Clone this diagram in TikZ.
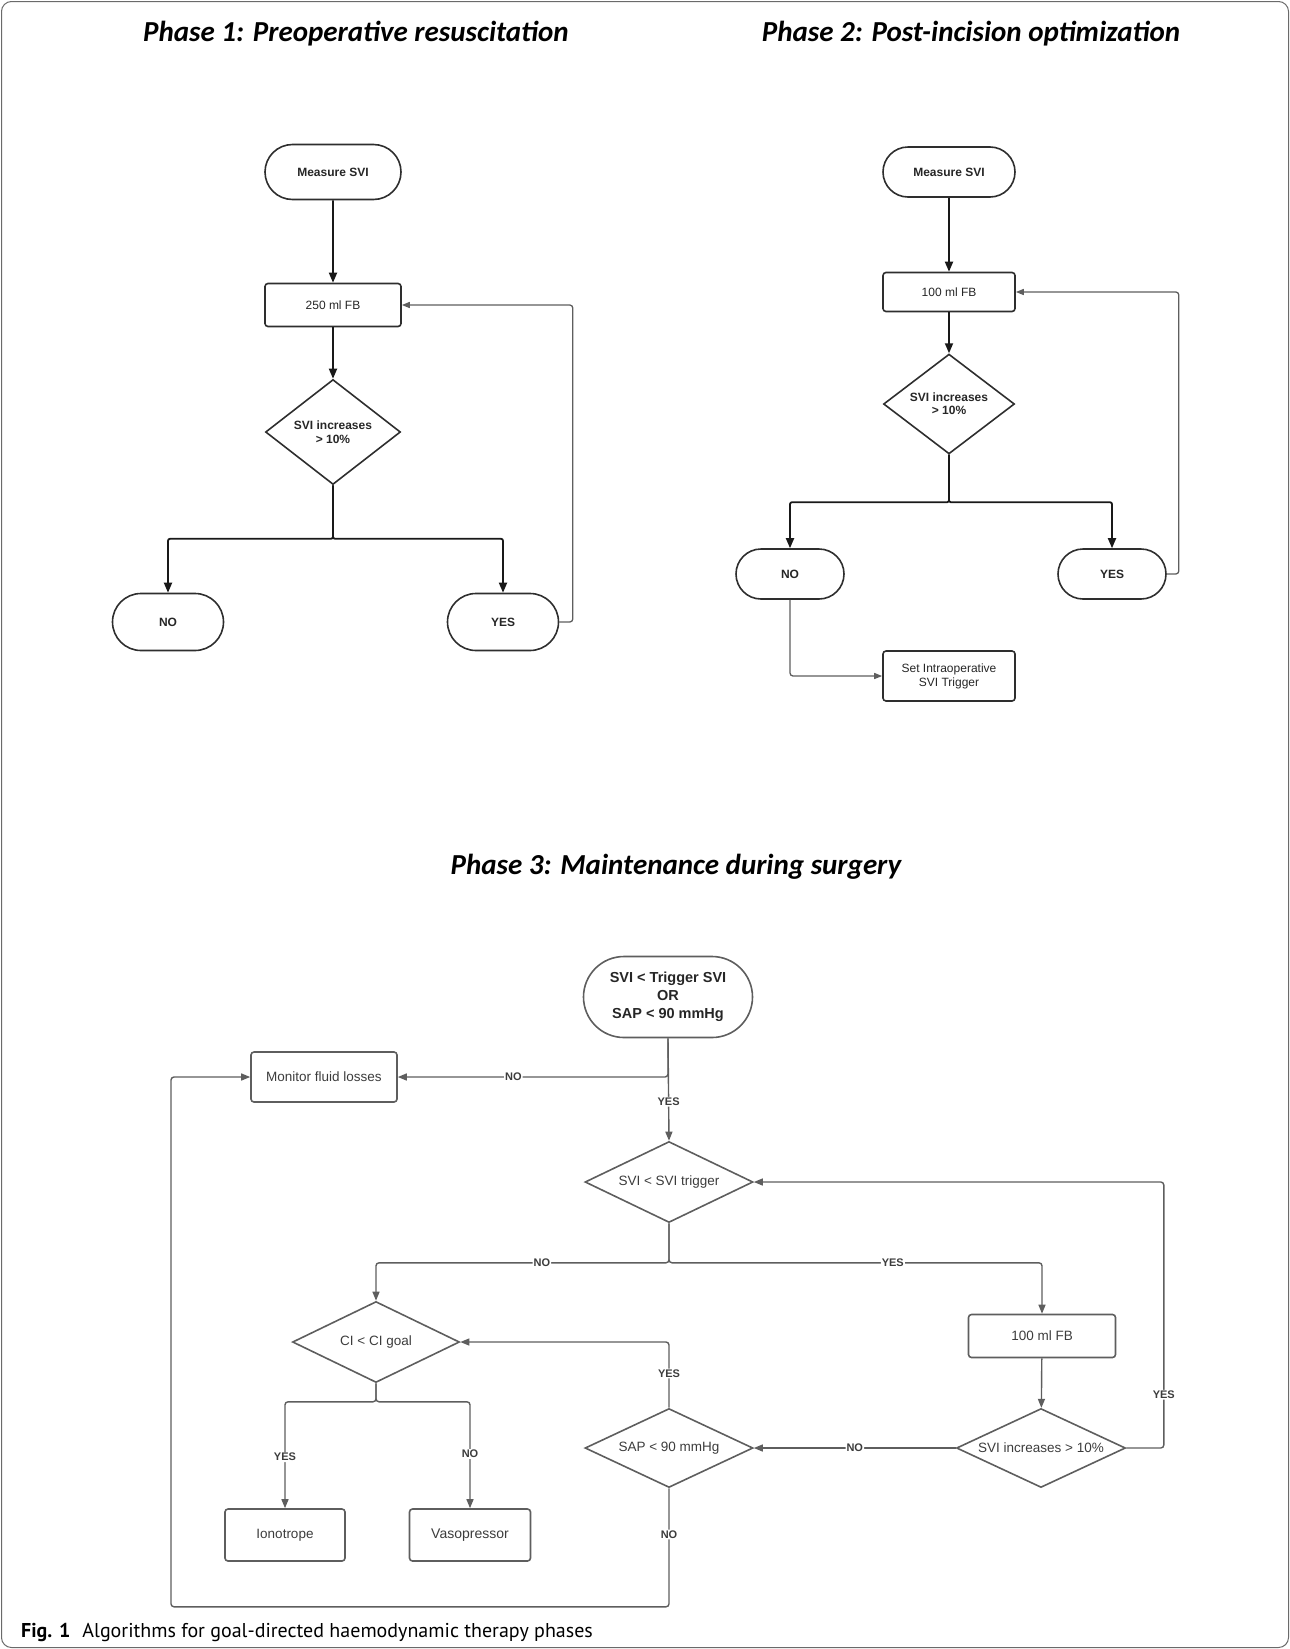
\documentclass[tikz,border=0pt]{standalone}
\usepackage{fontspec}
\setmainfont{Liberation Sans}
\newfontfamily\capfont{PT Sans}
\newfontfamily\headfont{Carlito}
\usetikzlibrary{positioning,shapes.geometric,shapes.misc,arrows.meta}
\definecolor{edgeblack}{HTML}{2E2E2E}
\definecolor{flowgray}{HTML}{5E5E5E}
\definecolor{framegray}{HTML}{6A6A6A}
\definecolor{textgray}{HTML}{3C3C3C}

\begin{document}
\begin{tikzpicture}[
				x=1pt,y=-1pt,
				term/.style={
					rounded rectangle,
					draw=edgeblack,
					line width=1.6pt,
					inner sep=0pt,
					align=center,
					text=black!85,
					font=\bfseries\fontsize{12}{14}\selectfont
				},
				box/.style={
					rectangle,
					draw=edgeblack,
					line width=1.6pt,
					rounded corners=3pt,
					inner sep=0pt,
					align=center,
					text=black!85,
					font=\fontsize{12}{14}\selectfont
				},
				decision/.style={
					diamond,
					draw=edgeblack,
					line width=1.6pt,
					inner sep=0pt,
					align=center,
					text=black!85,
					font=\bfseries\fontsize{12}{14}\selectfont
				},
				gbox/.style={
					box,
					draw=flowgray,
					text=textgray,
					font=\fontsize{13.5}{16}\selectfont
				},
				gdecision/.style={
					decision,
					aspect=2.1,
					draw=flowgray,
					text=textgray,
					font=\fontsize{13.5}{16}\selectfont
				},
				title/.style={
					font=\headfont\bfseries\itshape\fontsize{29}{33}\selectfont
				},
				arrow/.style={
					-{Triangle[length=10pt,width=8pt]},
					line width=1.8pt,
					draw=black!90
				},
				backarrow/.style={
					-{Triangle[length=8pt,width=6pt]},
					line width=1.3pt,
					draw=flowgray,
					rounded corners=3pt
				},
				garrow/.style={
					-{Triangle[length=9pt,width=7pt]},
					line width=1.4pt,
					draw=flowgray,
					rounded corners=3pt
				},
				lbl/.style={
					fill=white,
					inner sep=1pt,
					text=textgray,
					font=\bfseries\fontsize{11}{12}\selectfont
				}
			]
			\useasboundingbox (0,0) rectangle (1290,1649);
			\draw[framegray, line width=1pt, rounded corners=10pt] (1.5,1.5) rectangle (1288.5,1647.5);

			% Titles
			\node[title] (t1) at (356,34) {Phase 1: Preoperative resuscitation};
			\node[title] (t2) at (971,34) {Phase 2: Post-incision optimization};
			\node[title] (t3) at (676,867) {Phase 3: Maintenance during surgery};

			% Phase 1
			\node[term, minimum width=136pt, minimum height=55pt] (meas1) at (333,172) {Measure SVI};
			\node[box, minimum width=136pt, minimum height=43pt] (fb1) at (333,305) {250 ml FB};
			\node[decision, minimum width=135pt, minimum height=105pt] (inc1) at (333,432) {SVI increases\\ {>} 10\%};
			\node[term, minimum width=111pt, minimum height=57pt] (no1) at (168,622) {NO};
			\node[term, minimum width=111pt, minimum height=57pt] (yes1) at (503,622) {YES};

			\draw[arrow] (meas1) -- (fb1);
			\draw[arrow] (fb1) -- (inc1);
			\draw[arrow, rounded corners=2pt] (inc1.south) -- ++(0,53.5) -| (no1.north);
			\draw[arrow, rounded corners=2pt] (inc1.south) -- ++(0,53.5) -| (yes1.north);
			\draw[backarrow] (yes1.east) -- ++(13.5,0) |- (fb1.east);

			% Phase 2
			\node[term, minimum width=132pt, minimum height=50pt] (meas2) at (949,172) {Measure SVI};
			\node[box, minimum width=132pt, minimum height=39pt] (fb2) at (949,292) {100 ml FB};
			\node[decision, minimum width=131pt, minimum height=97pt, font=\bfseries\fontsize{12}{13}\selectfont] (inc2) at (949,404) {SVI increases\\ {>} 10\%};
			\node[term, minimum width=108pt, minimum height=50pt] (no2) at (790,574) {NO};
			\node[term, minimum width=108pt, minimum height=50pt] (yes2) at (1112,574) {YES};
			\node[box, minimum width=132pt, minimum height=50pt] (trig) at (949,676) {Set Intraoperative\\ SVI Trigger};

			\draw[arrow] (meas2) -- (fb2);
			\draw[arrow] (fb2) -- (inc2);
			\draw[arrow, rounded corners=2pt] (inc2.south) -- ++(0,47.5) -| (no2.north);
			\draw[arrow, rounded corners=2pt] (inc2.south) -- ++(0,47.5) -| (yes2.north);
			\draw[backarrow] (yes2.east) -- ++(12,0) |- (fb2.east);
			\draw[backarrow] (no2.south) |- (trig.west);

			% Phase 3
			\node[term, draw=flowgray, text=black!85, minimum width=169pt, minimum height=81pt, font=\bfseries\fontsize{14.5}{18}\selectfont] (start) at (668,997) {SVI < Trigger SVI\\ OR\\ SAP < 90 mmHg};
			\node[gbox, minimum width=146pt, minimum height=50pt] (monitor) at (324,1077) {Monitor fluid losses};
			\node[gdecision, minimum width=168pt, minimum height=81pt] (below) at (669,1182) {SVI < SVI trigger};
			\node[gdecision, minimum width=167pt, minimum height=81pt] (cigoal) at (376,1342) {CI < CI goal};
			\node[gbox, minimum width=147pt, minimum height=43pt] (fb3) at (1042,1336) {100 ml FB};
			\node[gdecision, minimum width=169pt, minimum height=79pt] (inc3) at (1041,1448) {SVI increases {>} 10\%};
			\node[gdecision, minimum width=168pt, minimum height=79pt] (sap) at (669,1448) {SAP < 90 mmHg};
			\node[gbox, minimum width=120pt, minimum height=52pt] (ino) at (285,1535) {Ionotrope};
			\node[gbox, minimum width=121pt, minimum height=52pt, font=\fontsize{14}{16}\selectfont] (vaso) at (470,1535) {Vasopressor};

			\draw[garrow] (start.south) |- (monitor.east) node[lbl, pos=0.786] {NO};
			\draw[garrow] (start.south) -- (below.north) node[lbl, pos=0.62] {YES};
			\draw[garrow] (below.south) -- ++(0,39.5) -| (cigoal.north) node[lbl, pos=0.217] {NO};
			\draw[garrow] (below.south) -- ++(0,39.5) -| (fb3.north) node[lbl, pos=0.3] {YES};
			\draw[garrow] (fb3) -- (inc3);
			\draw[garrow] (inc3.west) -- (sap.east) node[lbl, pos=0.5] {NO};
			\draw[garrow] (inc3.east) -- ++(37.5,0) |- (below.east) node[lbl, pos=0.1] {YES};
			\draw[garrow] (sap.north) |- (cigoal.east) node[lbl, pos=0.26] {YES};
			\draw[garrow] (cigoal.south) -- ++(0,18.5) -| (ino.north) node[lbl, pos=0.76] {YES};
			\draw[garrow] (cigoal.south) -- ++(0,18.5) -| (vaso.north) node[lbl, pos=0.745] {NO};
			\draw[garrow] (sap.south) -- ++(0,118.5) node[lbl, pos=0.39] {NO} -- ++(-498,0) |- (monitor.west);

			% Caption
			\node[anchor=base west, inner sep=0pt, font=\capfont\fontsize{20}{22}\selectfont] (cap) at (21,1637) {\textbf{Fig. 1}\hspace{0.6em}Algorithms for goal-directed haemodynamic therapy phases};
		\end{tikzpicture}
\end{document}
